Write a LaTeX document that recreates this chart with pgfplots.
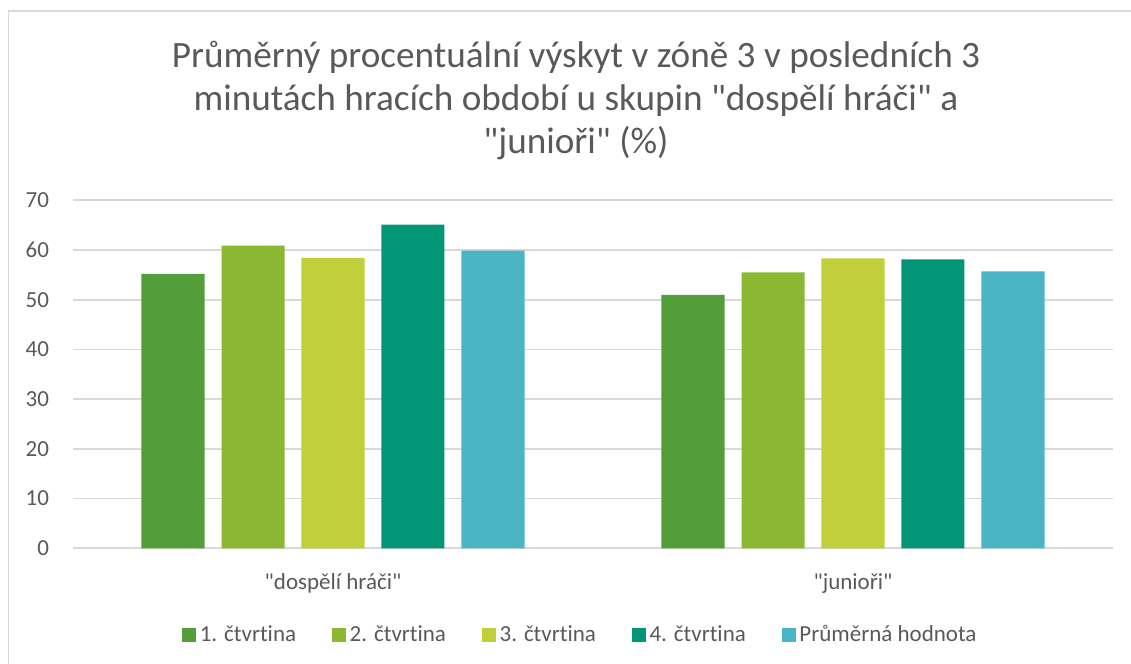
\documentclass[border=0pt]{standalone}
\usepackage{fontspec}
\setmainfont{Carlito}[Ligatures={TeXOff,CommonOff}]
\usepackage{pgfplots}
\pgfplotsset{compat=1.18}
\definecolor{c1}{HTML}{549E39}
\definecolor{c2}{HTML}{8AB833}
\definecolor{c3}{HTML}{C0CF3A}
\definecolor{c4}{HTML}{029676}
\definecolor{c5}{HTML}{4AB5C4}
\definecolor{txt}{HTML}{595959}
\definecolor{gridc}{HTML}{D9D9D9}
\newcommand{\lblfont}{\fontsize{11.5}{13.8}\selectfont}
\newcommand{\ttlfont}{\fontsize{18.6}{22}\selectfont}
\begin{document}
\begin{tikzpicture}
\useasboundingbox (0,0) rectangle (565.5pt,332pt);
\draw[gridc, line width=0.75pt] (4.25pt,0) -- (4.25pt,326.5pt) -- (565.5pt,326.5pt);
\node[anchor=base, text=txt, font=\ttlfont] at (288pt,298pt) {Průměrný procentuální výskyt v zóně 3 v posledních 3};
\node[anchor=base, text=txt, font=\ttlfont] at (288pt,276.7pt) {minutách hracích období u skupin "dospělí hráči" a};
\node[anchor=base, text=txt, font=\ttlfont] at (288pt,255pt) {"junioři" (\%)};
\begin{axis}[
  at={(36.5pt,57.85pt)}, anchor=south west,
  scale only axis, width=520pt, height=174pt,
  xmin=-0.5, xmax=1.5, ymin=0, ymax=70,
  ytick={0,10,...,70},
  xtick={0,1}, xticklabels={"dospělí hráči","junioři"},
  axis line style={draw=none},
  tick style={draw=none},
  ymajorgrids, major grid style={gridc, line width=0.9pt},
  /pgf/number format/assume math mode=true,
  ticklabel style={font=\lblfont, text=txt},
  yticklabel style={xshift=-8.5pt},
  xticklabel style={yshift=-5pt},
  ybar, bar width=0.1212,
  legend columns=5,
  legend cell align=left,
  legend image code/.code={\fill[#1] (0pt,-3.5pt) rectangle (7pt,3.5pt);},
  legend style={draw=none, fill=none, at={(0.4869,-0.248)}, anchor=center,
    font=\lblfont, text=txt, nodes={inner sep=0pt},
    /tikz/every odd column/.append style={column sep=1.8pt},
    /tikz/every even column/.append style={column sep=18pt}},
]
\addplot[fill=c1, draw=none, bar shift=-0.3077] coordinates {(0,55.2) (1,51.0)};
\addplot[fill=c2, draw=none, bar shift=-0.1538] coordinates {(0,60.9) (1,55.5)};
\addplot[fill=c3, draw=none, bar shift=0] coordinates {(0,58.4) (1,58.3)};
\addplot[fill=c4, draw=none, bar shift=0.1538] coordinates {(0,65.1) (1,58.1)};
\addplot[fill=c5, draw=none, bar shift=0.3077] coordinates {(0,59.9) (1,55.7)};
\legend{1. čtvrtina, 2. čtvrtina, 3. čtvrtina, 4. čtvrtina, Průměrná hodnota}
\end{axis}
\end{tikzpicture}
\end{document}
